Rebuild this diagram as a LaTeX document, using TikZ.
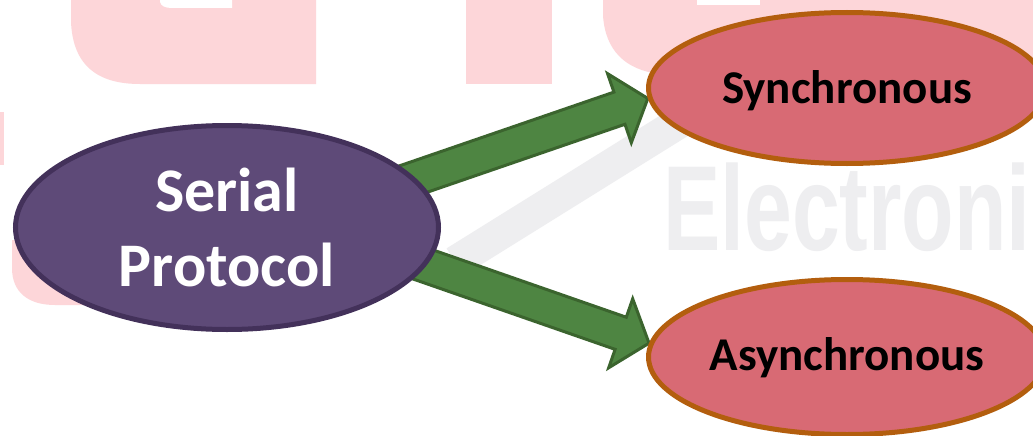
\documentclass[tikz,border=0pt]{standalone}
\usepackage{fontspec}
\setmainfont{Carlito}
\newfontfamily\wmfont{Liberation Sans}
\usetikzlibrary{calc,shapes.geometric}
\pgfdeclarelayer{wm}
\pgfdeclarelayer{bg}
\pgfsetlayers{wm,bg,main}
\definecolor{serialfill}{HTML}{5E4A78}
\definecolor{serialdraw}{HTML}{43315A}
\definecolor{leaffill}{HTML}{D86A74}
\definecolor{leafdraw}{HTML}{B35E0E}
\definecolor{arrowfill}{HTML}{4E8542}
\definecolor{arrowdraw}{HTML}{3B642E}
\definecolor{wmpink}{HTML}{FDD6D9}
\definecolor{wmgray}{HTML}{EEEEF0}
\newcommand\blockarrow[3]{%
  \coordinate (#3) at ($(#2)!30pt!(#1)$);
  \filldraw[arrowbody] ($(#1)!17pt!90:(#2)$) -- ($(#3)!17pt!90:(#2)$) -- ($(#3)!36.5pt!90:(#2)$) -- (#2)
    -- ($(#3)!36.5pt!-90:(#2)$) -- ($(#3)!17pt!-90:(#2)$) -- ($(#1)!17pt!-90:(#2)$) -- cycle;
}
\begin{document}
\begin{tikzpicture}[x=1pt,y=-1pt,
  serialnode/.style={ellipse, draw=serialdraw, fill=serialfill, line width=5pt,
    minimum width=423pt, minimum height=204pt, inner sep=0pt, text=white, align=center,
    font=\bfseries\fontsize{62}{75}\selectfont},
  leafnode/.style={ellipse, draw=leafdraw, fill=leaffill, line width=5pt,
    minimum width=397pt, minimum height=151pt, inner sep=0pt, text=black,
    font=\bfseries\fontsize{47}{56}\selectfont, text depth=0pt},
  arrowbody/.style={fill=arrowfill, draw=arrowdraw, line width=3pt, line join=miter},
  wmshape/.style={fill=wmpink},
  wmtext/.style={text=wmgray, font=\wmfont\bfseries\fontsize{121}{130}\selectfont, inner sep=0pt}
]
\useasboundingbox (0,0) rectangle (1033,436);

% main nodes
\node[serialnode] (serial) at (227,227.5) {Serial\\Protocol};
\node[leafnode, text height=30pt] (sync) at (847,88) {Synchronous};
\node[leafnode, text height=26pt, minimum height=155pt] (async) at (847,357) {Asynchronous};

% connectors (block arrows) behind the ellipses
\coordinate (s1) at ($(serial.center)+(153,-37)$);
\coordinate (s2) at ($(serial.center)+(153,22)$);
\begin{pgfonlayer}{bg}
\blockarrow{s1}{sync.183}{h1}
\blockarrow{s2}{async.176}{h2}
\end{pgfonlayer}

% faint watermark
\begin{pgfonlayer}{wm}
\fill[white] (0,0) rectangle (1033,436);
\fill[wmshape] (71,-10) -- (71,22) .. controls (73,66) and (98,84) .. (140,84) -- (316,84) -- (316,-10) -- cycle;
\fill[white] (160,-10) -- (160,2) .. controls (161,6) and (165,8) .. (172,8) -- (232,8) -- (232,-10) -- cycle;
\fill[wmshape] (466,-10) rectangle (552,84);
\fill[wmshape] (603,-10) -- (603,15) .. controls (605,50) and (625,70) .. (660,74) -- (1040,74) -- (1040,-10) -- cycle;
\fill[white] (697,-10) rectangle (760,5);
\fill[wmshape] (12,240) -- (12,268) .. controls (12,292) and (28,305) .. (55,305) -- (140,305) -- (140,240) -- cycle;
\fill[wmshape] (-10,112) rectangle (4,165);
\draw[wmgray, line width=32pt] (455,262) -- (680,122);
\node[wmtext, anchor=base west, xscale=0.71] (wm) at (663,250) {Electroni};
\end{pgfonlayer}
\end{tikzpicture}
\end{document}
